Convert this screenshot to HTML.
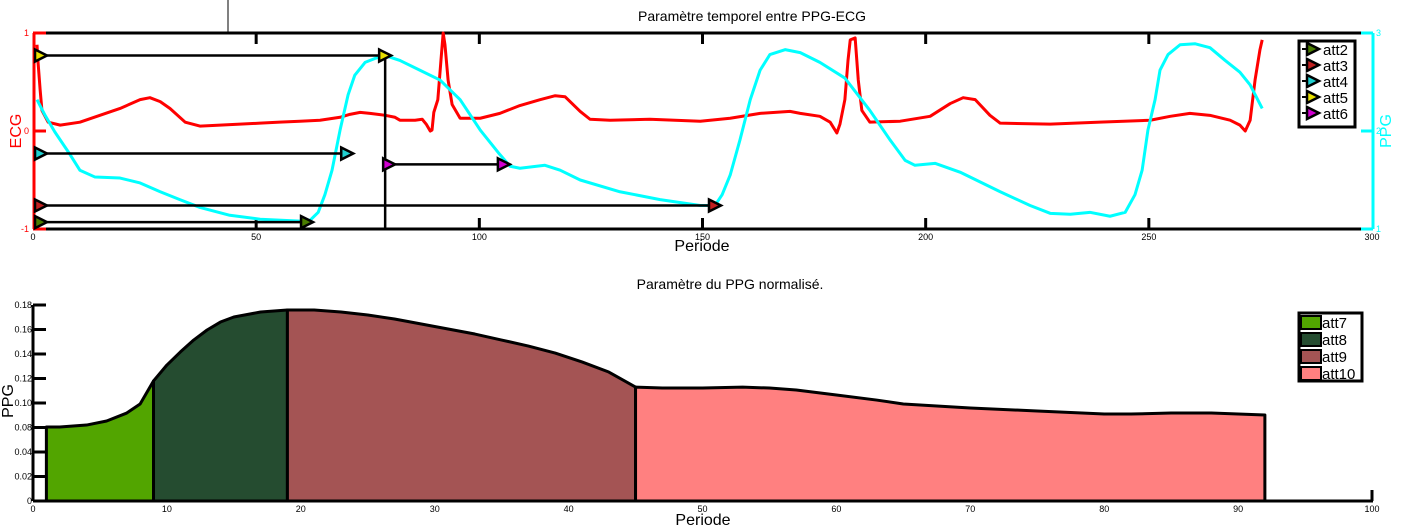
<!DOCTYPE html>
<html><head><meta charset="utf-8"><style>
body{margin:0;background:#fff;}
svg{display:block;font-family:"Liberation Sans",sans-serif;}
</style></head><body>
<svg id="c" width="1405" height="525" xmlns="http://www.w3.org/2000/svg"></svg>
<script>
// ---- Top chart data ----
const ecgT=[0.9,1.1,1.6,2.0,3.4,6.1,10.5,15.0,19.5,24.0,26.2,28.5,30.7,34.1,37.4,41.9,46.4,50.9,55.3,59.8,64.3,68.8,71.0,73.3,75.5,78.9,81.1,82.2,85.6,87.2,88.1,89.0,89.4,89.8,90.7,91.4,91.9,92.3,93.0,93.9,95.7,100.2,104.6,109.1,113.6,117.0,119.2,122.6,124.8,129.3,138.2,149.5,156.2,162.9,169.6,171.9,176.3,178.6,180.1,180.8,181.9,182.6,183.1,184.2,184.9,185.7,187.5,194.3,201.0,205.5,208.4,211.1,214.4,216.7,227.9,239.1,250.3,254.8,259.2,263.7,268.2,270.4,271.6,272.7,273.8,274.9,275.4];
const ecgV=[0.88,0.72,0.42,0.21,0.09,0.06,0.09,0.16,0.23,0.32,0.34,0.30,0.23,0.09,0.05,0.06,0.07,0.08,0.09,0.10,0.11,0.14,0.17,0.19,0.18,0.16,0.14,0.11,0.11,0.12,0.07,0.00,0.01,0.19,0.32,0.72,1.0,0.88,0.52,0.27,0.13,0.13,0.18,0.26,0.32,0.36,0.35,0.20,0.12,0.11,0.12,0.10,0.13,0.18,0.20,0.18,0.15,0.09,-0.02,0.07,0.32,0.72,0.93,0.95,0.52,0.21,0.09,0.10,0.15,0.28,0.34,0.32,0.16,0.08,0.07,0.09,0.11,0.15,0.18,0.16,0.11,0.06,0.00,0.11,0.52,0.83,0.93];
const ppgT=[0.9,2.7,4.9,8.3,10.5,13.9,19.5,24.0,28.5,32.9,37.4,44.1,50.9,59.8,62.1,63.9,65.4,67.0,68.8,70.6,72.1,74.4,76.6,78.9,82.2,86.7,91.2,95.7,100.2,104.6,106.9,109.1,114.7,118.1,122.6,131.5,140.5,149.5,152.8,154.4,156.2,158.4,160.7,162.9,165.1,168.5,171.9,176.3,181.9,187.5,192.0,195.4,197.6,202.1,207.7,216.7,223.4,227.9,232.4,236.8,241.3,244.7,246.9,248.5,249.8,251.4,252.5,254.3,257.0,260.4,263.7,267.1,270.4,272.7,275.4];
const ppgV=[2.32,2.16,1.99,1.76,1.60,1.53,1.52,1.47,1.38,1.30,1.22,1.14,1.10,1.08,1.09,1.17,1.35,1.60,2.01,2.37,2.57,2.70,2.74,2.77,2.72,2.62,2.52,2.32,2.01,1.76,1.64,1.62,1.65,1.60,1.50,1.38,1.30,1.24,1.24,1.35,1.55,1.91,2.32,2.62,2.78,2.83,2.80,2.70,2.54,2.21,1.91,1.70,1.65,1.67,1.58,1.38,1.24,1.16,1.15,1.17,1.13,1.17,1.35,1.60,2.01,2.32,2.62,2.78,2.88,2.89,2.85,2.72,2.60,2.47,2.23];
const arrowNames=["att2","att3","att4","att5","att6"];
const arrowColors=["#4a7d00","#c02020","#20d0d0","#e8e000","#d000d0"];
const arrowY=[-0.93,-0.76,-0.23,0.77,-0.34];
const arrowStart=[0.9,0.9,0.9,0.9,78.9];
const arrowEnd=[61.4,152.8,70.4,78.9,105.5];
const topXTicks=[0,50,100,150,200,250,300];
// ---- Bottom chart data ----
const segNames=["att7","att8","att9","att10"];
const segColors=["#52a500","#254c30","#a45454","#ff8080"];
const segBounds=[1,9,19,45,92];
const ppgX=[1,2,4,5.5,7,8,9,10,11,12,13,14,15,17,19,21,23,25,27,29,31,33,35,37,39,41,43,45,47,50,53,55,57,60,63,65,70,75,80,82,85,88,92];
const ppgN=[0.0604,0.0604,0.0620,0.0653,0.0718,0.0792,0.0980,0.1110,0.1216,0.1314,0.1396,0.1461,0.1502,0.1543,0.1559,0.1559,0.1543,0.1518,0.1486,0.1445,0.1404,0.1363,0.1314,0.1265,0.1208,0.1135,0.1053,0.0930,0.0922,0.0922,0.0930,0.0922,0.0906,0.0865,0.0824,0.0792,0.0759,0.0735,0.0710,0.0710,0.0718,0.0718,0.0702];
const botYLabels=["0","0.02","0.04","0.08","0.10","0.12","0.14","0.16","0.18"];
const botXTicks=[0,10,20,30,40,50,60,70,80,90,100];

const S=document.getElementById('c');
const NS="http://www.w3.org/2000/svg";
function mk(tag,attrs,parent){const e=document.createElementNS(NS,tag);for(const k in attrs)e.setAttribute(k,attrs[k]);(parent||S).appendChild(e);return e;}
function txt(x,y,s,size,fill,anchor,parent){const e=mk('text',{x:x,y:y,'font-size':size,fill:fill||'#000','text-anchor':anchor||'middle'},parent);e.textContent=s;return e;}

// top scales
const tx=t=>33+t*(1372-33)/300;
const ey=v=>131-v*98;
const py=v=>131-(v-2)*98;

let g=mk('g',{});


let t=txt(752,21,"Paramètre temporel entre PPG-ECG",14,'#000','middle',g);

let l=mk('line',{x1:228,y1:0,x2:228,y2:33,stroke:'#000','stroke-width':1},g);

// frame
l=mk('line',{x1:33,y1:33,x2:1372,y2:33,stroke:'#000','stroke-width':3},g);

l=mk('line',{x1:33,y1:229,x2:1372,y2:229,stroke:'#000','stroke-width':3},g);

topXTicks.forEach(v=>{
  if(v>0&&v<300){mk('line',{x1:tx(v),y1:33,x2:tx(v),y2:44,stroke:'#000','stroke-width':3},g);mk('line',{x1:tx(v),y1:229,x2:tx(v),y2:218,stroke:'#000','stroke-width':3},g);}
  const e=txt(tx(v),240,String(v),9,'#000','middle',g);
  
});
t=txt(702,251,"Periode",16,'#000','middle',g);

// left axis red
l=mk('line',{x1:34,y1:33,x2:34,y2:229,stroke:'#f00','stroke-width':3},g);

[1,0,-1].forEach(v=>{mk('line',{x1:33,y1:ey(v),x2:46,y2:ey(v),stroke:'#f00','stroke-width':3},g);
  const e=txt(29,ey(v)+3,String(v),9,'#f00','end',g);});
t=txt(0,0,"ECG",16,'#f00','middle',g);t.setAttribute('transform','translate(21,131) rotate(-90)');

// right axis cyan
l=mk('line',{x1:1373,y1:33,x2:1373,y2:229,stroke:'#0ff','stroke-width':3},g);

[3,2,1].forEach(v=>{mk('line',{x1:1361,y1:py(v),x2:1373,y2:py(v),stroke:'#0ff','stroke-width':3},g);
  const e=txt(1376,py(v)+3,String(v),9,'#0ff','start',g);});
t=txt(0,0,"PPG",16,'#0ff','middle',g);t.setAttribute('transform','translate(1391,131) rotate(-90)');

// series
let pe=mk('polyline',{points:ecgT.map((x,i)=>tx(x)+','+ey(ecgV[i])).join(' '),fill:'none',stroke:'#f00','stroke-width':3,'stroke-linejoin':'round'},g);

let pp=mk('polyline',{points:ppgT.map((x,i)=>tx(x)+','+py(ppgV[i])).join(' '),fill:'none',stroke:'#0ff','stroke-width':3,'stroke-linejoin':'round'},g);

// vertical marker
l=mk('line',{x1:tx(arrowEnd[3]),y1:ey(arrowY[3]),x2:tx(arrowEnd[3]),y2:229,stroke:'#000','stroke-width':2.5},g);

function tri(x,y,col,parent){return mk('polygon',{points:(x-4)+','+(y-6)+' '+(x+8)+','+y+' '+(x-4)+','+(y+6),fill:col,stroke:'#000','stroke-width':2.5},parent);}
arrowNames.forEach((n,i)=>{
  const y=ey(arrowY[i]);
  const a=mk('line',{x1:tx(arrowStart[i]),y1:y,x2:tx(arrowEnd[i]),y2:y,stroke:'#000','stroke-width':2.5},g);
  
  tri(tx(arrowStart[i])+2,y,arrowColors[i],g);
  tri(tx(arrowEnd[i])-2,y,arrowColors[i],g);
});
// legend
let lg=mk('g',{},g);

mk('rect',{x:1299,y:41,width:56,height:86,fill:'#fff',stroke:'#000','stroke-width':3},lg);
arrowNames.forEach((n,i)=>{
  const y=49+i*16;
  mk('line',{x1:1302,y1:y,x2:1312,y2:y,stroke:'#000','stroke-width':2},lg);
  tri(1311,y,arrowColors[i],lg);
  const e=txt(1323,y+6,n,15,'#000','start',lg);
  
});

// ---- bottom chart ----
const bx=v=>33+v*(1372-33)/100;
const by=v=>501-v*196/0.16;
let g2=mk('g',{});

t=txt(730,289,"Paramètre du PPG normalisé.",14,'#000','middle',g2);

function interp(x){for(let i=0;i<ppgX.length-1;i++){if(x>=ppgX[i]&&x<=ppgX[i+1]){const f=(x-ppgX[i])/(ppgX[i+1]-ppgX[i]);return ppgN[i]+f*(ppgN[i+1]-ppgN[i]);}}return ppgN[ppgN.length-1];}
segNames.forEach((n,i)=>{
  const a=segBounds[i],b=segBounds[i+1];
  const pts=[[a,0],[a,interp(a)]];
  ppgX.forEach((x,j)=>{if(x>a&&x<b)pts.push([x,ppgN[j]]);});
  pts.push([b,interp(b)],[b,0]);
  const p=mk('polygon',{points:pts.map(q=>bx(q[0])+','+by(q[1])).join(' '),fill:segColors[i],stroke:'#000','stroke-width':3,'stroke-linejoin':'round'},g2);
  
});
l=mk('line',{x1:33,y1:501,x2:1373,y2:501,stroke:'#000','stroke-width':3},g2);

l=mk('line',{x1:33,y1:305,x2:33,y2:501,stroke:'#000','stroke-width':3},g2);

botYLabels.forEach((s,i)=>{const v=i*0.02;mk('line',{x1:33,y1:by(v),x2:46,y2:by(v),stroke:'#000','stroke-width':3},g2);
  const e=txt(32,by(v)+3,s,9,'#000','end',g2);});
botXTicks.forEach(v=>{if(v===100)mk('line',{x1:bx(v),y1:490,x2:bx(v),y2:501,stroke:'#000','stroke-width':3},g2);
  const e=txt(bx(v),512,String(v),9,'#000','middle',g2);});
t=txt(703,525,"Periode",16,'#000','middle',g2);

t=txt(0,0,"PPG",16,'#000','middle',g2);t.setAttribute('transform','translate(13,401) rotate(-90)');

let lg2=mk('g',{},g2);

mk('rect',{x:1299,y:313,width:63,height:68,fill:'#fff',stroke:'#000','stroke-width':3},lg2);
segNames.forEach((n,i)=>{const y=316+i*17;
  mk('rect',{x:1301,y:y,width:20,height:13,fill:segColors[i],stroke:'#000','stroke-width':2},lg2);
  const e=txt(1322,y+12,n,15,'#000','start',lg2);});
</script>
</body></html>
